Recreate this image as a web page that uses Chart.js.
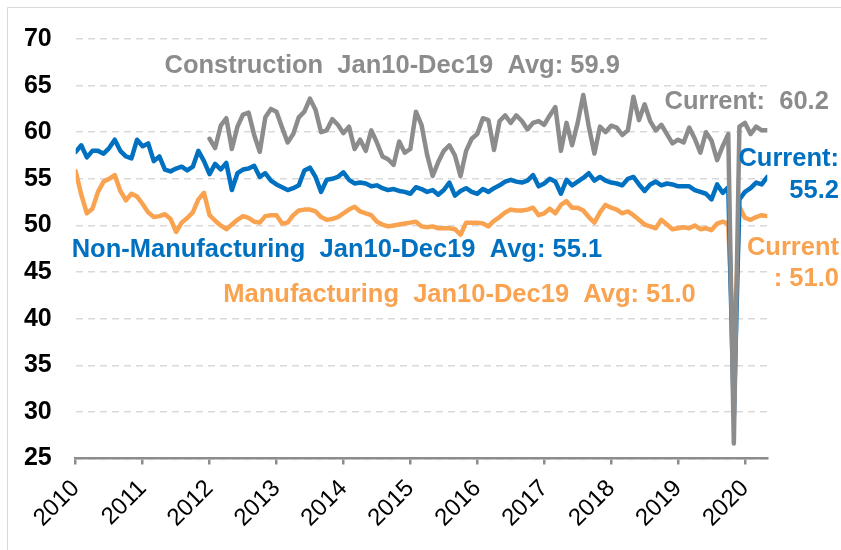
<!DOCTYPE html>
<html>
<head>
<meta charset="utf-8">
<script src="https://cdn.jsdelivr.net/npm/chart.js@4.4.1/dist/chart.umd.min.js"></script>
<style>
html,body{margin:0;padding:0;background:#fff;}
#wrap{width:841px;height:550px;position:relative;}
</style>
</head>
<body>
<div id="wrap"><canvas id="c" width="841" height="550"></canvas></div>
<script>
// ---- data (monthly index) ----
const yearLabels = ['2010','2011','2012','2013','2014','2015','2016','2017','2018','2019','2020'];

const nonManufacturing = [
57.9,58.6,57.3,58.0,58.0,57.7,58.3,59.2,58.0,57.4,
57.2,59.2,58.5,58.8,56.9,57.4,56.0,55.8,56.1,56.3,
55.9,56.3,58.0,56.9,55.5,56.6,56.0,56.7,53.8,55.6,
56.0,56.1,56.4,55.2,55.6,54.8,54.4,54.1,53.8,54.0,
54.3,55.9,56.2,55.2,53.6,54.9,55.0,55.2,55.7,54.9,
54.5,54.6,54.5,54.2,54.3,54.0,53.8,53.9,53.7,53.6,
53.4,54.1,53.9,53.6,53.8,53.3,53.8,54.6,53.2,53.7,
54.0,53.6,53.4,53.9,53.6,54.0,54.3,54.7,54.9,54.7,
54.6,54.8,55.4,54.2,54.5,55.0,54.7,53.4,54.9,54.3,
54.7,55.1,55.6,54.8,55.2,54.8,54.6,54.5,54.3,55.0,
55.2,54.4,53.7,54.4,54.7,54.3,54.5,54.4,54.2,54.2,
54.2,53.8,53.6,53.4,52.8,54.4,53.5,54.1,29.6,52.8,
53.6,54.0,54.6,54.4,55.2
];

const manufacturing = [
55.8,53.3,51.3,51.8,53.6,54.7,55.0,55.4,53.7,52.7,
53.4,53.1,52.3,51.4,50.9,51.0,51.2,50.7,49.3,50.3,
50.8,51.4,52.8,53.5,51.1,50.5,50.0,49.6,50.1,50.6,
51.0,50.8,50.4,50.3,51.0,51.1,51.1,50.2,50.3,51.1,
51.6,51.7,51.7,51.5,50.9,50.6,50.7,50.9,51.3,51.7,
52.0,51.5,51.3,51.1,50.4,50.1,49.9,50.0,50.1,50.2,
50.3,50.4,49.9,49.8,49.9,49.7,49.7,49.7,49.6,49.0,
50.3,50.3,50.3,50.2,49.9,50.5,50.9,51.4,51.7,51.6,
51.6,51.7,51.9,51.1,51.3,51.8,51.3,52.2,52.6,51.9,
51.9,51.6,50.9,50.3,51.4,52.2,51.9,51.7,51.3,51.5,
51.1,50.6,50.1,49.9,49.7,50.6,50.1,49.6,49.7,49.8,
49.7,50.0,49.6,49.7,49.5,50.2,50.4,50.2,35.7,52.0,
50.8,50.6,50.9,51.1,51.0
];

const construction = [
null,null,null,null,null,null,null,null,null,null,
null,null,null,null,null,null,null,null,null,null,
null,null,null,null,59.3,58.3,60.7,61.5,58.2,60.6,
61.9,62.1,59.7,57.9,61.6,62.5,62.2,60.5,58.9,59.8,
61.6,62.2,63.6,62.4,60.0,60.2,61.4,60.8,59.9,60.6,
58.2,59.2,58.0,60.2,58.9,57.4,57.1,56.5,59.0,57.8,
58.2,62.2,60.8,57.6,55.3,56.8,58.0,58.6,57.5,55.3,
58.0,59.3,59.8,61.5,61.3,58.1,61.2,61.8,61.0,61.8,
61.2,60.3,61.0,61.2,60.8,61.8,62.7,58.0,61.0,58.6,
61.0,64.0,60.6,57.7,60.6,60.0,60.7,60.5,59.7,60.2,
63.8,61.3,63.0,61.2,60.2,60.8,59.8,58.8,59.2,58.9,
60.5,59.3,57.8,60.0,59.1,57.0,58.5,59.8,26.6,60.6,
61.0,59.8,60.6,60.2,60.2
];

const seriesNames = ['Construction','Non-Manufacturing','Manufacturing'];
const noteTexts = [
  'Construction  Jan10-Dec19  Avg: 59.9',
  'Current:  60.2',
  'Current:',
  '55.2',
  'Current',
  ': 51.0',
  'Non-Manufacturing  Jan10-Dec19  Avg: 55.1',
  'Manufacturing  Jan10-Dec19  Avg: 51.0'
];

// ---- styles ----
const GRAY = '#8c8c8c', BLUE = '#0070c0', ORANGE = '#f9a24f';
const FONT = '"Liberation Sans", Arial, Helvetica, sans-serif';

const toPoints = arr => arr.map((v, i) => ({x: i, y: v}));

const noteLayout = [
  {c: GRAY,   x: 164.5, y: 73.3,  a: 'left'},
  {c: GRAY,   x: 664.5, y: 109,   a: 'left'},
  {c: BLUE,   x: 839,   y: 166,   a: 'right'},
  {c: BLUE,   x: 839,   y: 197.5, a: 'right'},
  {c: ORANGE, x: 839,   y: 255,   a: 'right'},
  {c: ORANGE, x: 839,   y: 285.7, a: 'right'},
  {c: BLUE,   x: 71.7,  y: 256.7, a: 'left'},
  {c: ORANGE, x: 223.3, y: 301.7, a: 'left'}
];

const decor = {
  id: 'decor',
  beforeDraw(chart) {
    const ctx = chart.ctx;
    ctx.save();
    ctx.fillStyle = '#fff';
    ctx.fillRect(0, 0, chart.width, chart.height);
    ctx.strokeStyle = '#d9d9d9';
    ctx.lineWidth = 1;
    ctx.beginPath();
    ctx.moveTo(7.5, chart.height);
    ctx.lineTo(7.5, 7.5);
    ctx.lineTo(chart.width, 7.5);
    ctx.stroke();
    ctx.restore();
  },
  afterDraw(chart) {
    const ctx = chart.ctx;
    ctx.save();
    ctx.font = 'bold 25.5px ' + FONT;
    ctx.textBaseline = 'alphabetic';
    noteTexts.forEach((t, i) => {
      const L = noteLayout[i];
      ctx.fillStyle = L.c;
      ctx.textAlign = L.a;
      ctx.fillText(t, L.x, L.y);
    });
    ctx.restore();
  }
};

new Chart(document.getElementById('c'), {
  type: 'line',
  data: {
    datasets: [
      {label: seriesNames[0], data: toPoints(construction), borderColor: GRAY},
      {label: seriesNames[1], data: toPoints(nonManufacturing), borderColor: BLUE},
      {label: seriesNames[2], data: toPoints(manufacturing), borderColor: ORANGE}
    ]
  },
  options: {
    responsive: false,
    animation: false,
    devicePixelRatio: 1,
    layout: {padding: {top: 35, right: 73.7, left: 0, bottom: 0}},
    plugins: {legend: {display: false}, tooltip: {enabled: false}},
    elements: {
      point: {radius: 0, hoverRadius: 0},
      line: {borderWidth: 4.5, tension: 0, borderJoinStyle: 'round', borderCapStyle: 'round', fill: false}
    },
    scales: {
      x: {
        type: 'linear', min: 0, max: nonManufacturing.length - 1,
        afterFit: s => { s.height = 91.5; },
        grid: {drawOnChartArea: false, drawTicks: true, tickLength: 6, color: GRAY, lineWidth: 2.5},
        border: {display: true, color: GRAY, width: 2.5},
        ticks: {
          stepSize: 12, includeBounds: false, autoSkip: false,
          minRotation: 45, maxRotation: 45, padding: 10,
          color: '#000', font: {family: FONT, size: 24},
          callback: v => (v % 12 === 0 ? yearLabels[v / 12] : '')
        }
      },
      y: {
        min: 25, max: 70,
        afterFit: s => { s.width = 75.7; },
        grid: {color: '#d9d9d9', lineWidth: 1.5, drawTicks: false},
        border: {display: false, dash: [7, 5]},
        ticks: {stepSize: 5, padding: 24, color: '#000', font: {family: FONT, size: 25, weight: 'bold'}}
      }
    }
  },
  plugins: [decor]
});
</script>
</body>
</html>
